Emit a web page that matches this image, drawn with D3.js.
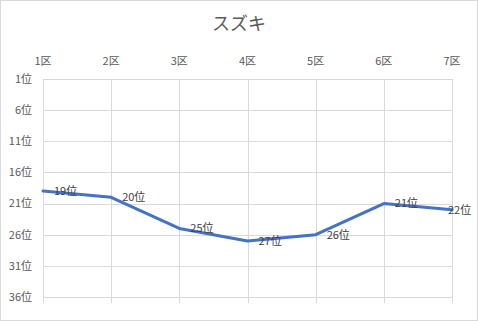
<!DOCTYPE html>
<html>
<head>
<meta charset="utf-8">
<script src="https://cdn.jsdelivr.net/npm/d3@7"></script>
<style>
  body { margin: 0; background: #fff; }
  text { font-family: "Noto Sans CJK JP", "Noto Sans", sans-serif; fill: #595959; }
</style>
</head>
<body>
<svg width="478" height="321"></svg>
<script>
// Data
var title = "スズキ";
var sections = ["1区", "2区", "3区", "4区", "5区", "6区", "7区"];
var ranks = [19, 20, 25, 27, 26, 21, 22];
var rankTicks = [1, 6, 11, 16, 21, 26, 31, 36];

var svg = d3.select("svg"),
    width = +svg.attr("width"),
    height = +svg.attr("height");

var margin = { left: 43, right: 26, top: 79, bottom: 24 };

// chart border
svg.append("rect")
    .attr("x", 0.5).attr("y", 0.5)
    .attr("width", width - 1).attr("height", height - 1)
    .attr("fill", "none").attr("stroke", "#d9d9d9");

var x = d3.scalePoint()
    .domain(sections)
    .range([margin.left, width - margin.right]);

var y = d3.scaleLinear()
    .domain([1, 36])
    .range([margin.top, height - margin.bottom]);

// gridlines
svg.append("g")
    .selectAll("line")
    .data(rankTicks)
    .enter()
    .append("line")
    .attr("x1", margin.left).attr("x2", width - margin.right)
    .attr("y1", d => Math.round(y(d)) + 0.5).attr("y2", d => Math.round(y(d)) + 0.5)
    .attr("stroke", "#d9d9d9");

svg.append("g")
    .selectAll("line")
    .data(sections)
    .enter()
    .append("line")
    .attr("x1", d => Math.round(x(d)) + 0.5).attr("x2", d => Math.round(x(d)) + 0.5)
    .attr("y1", margin.top).attr("y2", y(36) + 6)
    .attr("stroke", "#d9d9d9");

// y labels
svg.append("g")
    .selectAll("text")
    .data(rankTicks)
    .enter()
    .append("text")
    .attr("x", 32)
    .attr("y", d => y(d))
    .attr("dy", "0.35em")
    .attr("text-anchor", "end")
    .style("font-size", "11px")
    .text(d => d + "位");

// x labels (top)
svg.append("g")
    .selectAll("text")
    .data(sections)
    .enter()
    .append("text")
    .attr("x", d => x(d))
    .attr("y", 65)
    .attr("text-anchor", "middle")
    .style("font-size", "11px")
    .text(d => d);

// title
svg.append("text")
    .attr("x", width / 2)
    .attr("y", 30)
    .attr("text-anchor", "middle")
    .style("font-size", "18px")
    .text(title);

// line
var line = d3.line()
    .x((d, i) => x(sections[i]))
    .y(d => y(d));

svg.append("path")
    .datum(ranks)
    .attr("d", line)
    .attr("fill", "none")
    .attr("stroke", "#4472C4")
    .attr("stroke-width", 3)
    .attr("stroke-linejoin", "round")
    .attr("stroke-linecap", "round");

// data labels
svg.append("g")
    .selectAll("text")
    .data(ranks)
    .enter()
    .append("text")
    .attr("x", (d, i) => Math.min(x(sections[i]) + 11, 448))
    .attr("y", d => y(d))
    .attr("dy", "0.35em")
    .style("font-size", "11px")
    .style("fill", "#404040")
    .text(d => d + "位");
</script>
</body>
</html>
